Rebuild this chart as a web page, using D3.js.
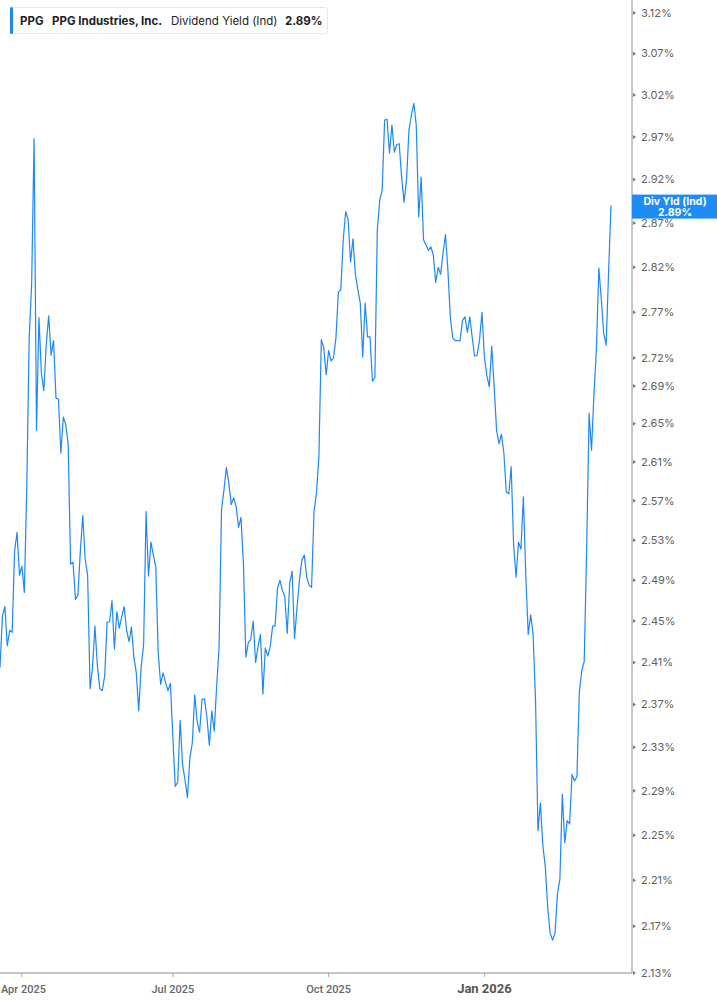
<!DOCTYPE html>
<html>
<head>
<meta charset="utf-8">
<script src="https://cdn.jsdelivr.net/npm/d3@7"></script>
<style>
  html, body { margin: 0; padding: 0; background: #fff; }
  svg { display: block; }
</style>
</head>
<body>
<div id="chart"></div>
<script>
// ---- Data ----
const ticker = "PPG";
const companyName = "PPG Industries, Inc.";
const seriesName = "Dividend Yield (Ind)";
const endLabel = "Div Yld (Ind)";

// Daily dividend yield (%), one value per trading day, Mar 2025 .. Mar 2026
const yieldValues = [
  2.405, 2.455, 2.464, 2.426, 2.441, 2.439, 2.519, 2.538, 2.495, 2.504,
  2.478, 2.584, 2.743, 2.801, 2.968, 2.643, 2.764, 2.704, 2.685, 2.735,
  2.766, 2.723, 2.739, 2.677, 2.676, 2.619, 2.657, 2.649, 2.629, 2.506,
  2.508, 2.471, 2.475, 2.519, 2.555, 2.511, 2.495, 2.385, 2.405, 2.445,
  2.407, 2.385, 2.383, 2.397, 2.449, 2.449, 2.470, 2.423, 2.459, 2.443,
  2.454, 2.464, 2.441, 2.430, 2.444, 2.415, 2.400, 2.364, 2.406, 2.427,
  2.559, 2.494, 2.528, 2.515, 2.503, 2.419, 2.389, 2.400, 2.391, 2.383,
  2.390, 2.340, 2.294, 2.298, 2.355, 2.314, 2.300, 2.284, 2.320, 2.334,
  2.379, 2.354, 2.344, 2.375, 2.375, 2.358, 2.332, 2.364, 2.345, 2.387,
  2.425, 2.561, 2.581, 2.604, 2.588, 2.566, 2.573, 2.564, 2.543, 2.553,
  2.507, 2.415, 2.429, 2.432, 2.450, 2.410, 2.425, 2.437, 2.380, 2.424,
  2.416, 2.425, 2.445, 2.445, 2.482, 2.490, 2.480, 2.474, 2.438, 2.487,
  2.499, 2.433, 2.463, 2.490, 2.510, 2.515, 2.493, 2.485, 2.483, 2.559,
  2.578, 2.615, 2.740, 2.731, 2.702, 2.728, 2.717, 2.720, 2.742, 2.792,
  2.795, 2.851, 2.883, 2.874, 2.826, 2.852, 2.812, 2.795, 2.780, 2.721,
  2.780, 2.743, 2.743, 2.695, 2.699, 2.862, 2.896, 2.908, 2.990, 2.991,
  2.951, 2.984, 2.952, 2.961, 2.962, 2.922, 2.894, 2.920, 2.978, 2.996,
  3.010, 2.984, 2.877, 2.923, 2.851, 2.845, 2.839, 2.843, 2.834, 2.803,
  2.820, 2.812, 2.836, 2.857, 2.817, 2.764, 2.742, 2.739, 2.739, 2.739,
  2.761, 2.765, 2.748, 2.765, 2.742, 2.722, 2.723, 2.740, 2.770, 2.721,
  2.701, 2.689, 2.733, 2.689, 2.643, 2.629, 2.639, 2.619, 2.579, 2.577,
  2.605, 2.525, 2.493, 2.528, 2.521, 2.574, 2.495, 2.437, 2.456, 2.437,
  2.374, 2.254, 2.279, 2.241, 2.222, 2.186, 2.164, 2.158, 2.164, 2.198,
  2.211, 2.287, 2.243, 2.263, 2.260, 2.305, 2.299, 2.303, 2.382, 2.402,
  2.411, 2.521, 2.661, 2.622, 2.681, 2.729, 2.819, 2.785, 2.747, 2.734,
  2.814, 2.890
];

// Y tick values (%)
const yTicks = [3.12, 3.07, 3.02, 2.97, 2.92, 2.87, 2.82, 2.77, 2.72, 2.69,
                2.65, 2.61, 2.57, 2.53, 2.49, 2.45, 2.41, 2.37, 2.33, 2.29,
                2.25, 2.21, 2.17, 2.13];

// X ticks: trading-day index of first session of each labelled month
const xTickIndex = [9, 71, 135, 199];
const xTickLabels = ["Apr 2025", "Jul 2025", "Oct 2025", "Jan 2026"];
const xTickBold = [false, false, false, true];

// ---- Layout ----
const W = 717, H = 1005;
const plotRight = 632, plotBottom = 973, plotTop = 13;
const lineColor = "#1e88f5";

const svg = d3.select("#chart").append("svg")
  .attr("width", W).attr("height", H)
  .style("font-family", "Inter, 'Noto Sans', sans-serif");

const x = d3.scaleLinear().domain([0, yieldValues.length - 1]).range([0, 611]);
const y = d3.scaleLog().domain([2.13, 3.12]).range([plotBottom, plotTop]);

// Line
const line = d3.line()
  .x((d, i) => x(i))
  .y(d => y(d));

svg.append("path")
  .datum(yieldValues)
  .attr("fill", "none")
  .attr("stroke", lineColor)
  .attr("stroke-width", 1.2)
  .attr("stroke-linejoin", "round")
  .attr("d", line);

// Y axis (right)
const yAxisG = svg.append("g").attr("transform", `translate(${plotRight},0)`);
yAxisG.append("line")
  .attr("x1", 0).attr("x2", 0).attr("y1", 0).attr("y2", plotBottom)
  .attr("stroke", "#b3b3b3").attr("stroke-width", 1.5);
const yt = yAxisG.selectAll("g.yt").data(yTicks).enter().append("g")
  .attr("transform", d => `translate(0,${y(d)})`);
yt.append("path")
  .attr("d", "M1,-2L4,0L1,2Z")
  .attr("fill", "#777");
yt.append("text")
  .attr("x", 9).attr("dy", "0.35em")
  .attr("font-size", 11)
  .attr("fill", "#5f5f5f")
  .text(d => d.toFixed(2) + "%");

// X axis (bottom)
const xAxisG = svg.append("g");
xAxisG.append("line")
  .attr("x1", 0).attr("x2", plotRight).attr("y1", plotBottom).attr("y2", plotBottom)
  .attr("stroke", "#b3b3b3").attr("stroke-width", 1.5);
const xt = xAxisG.selectAll("g.xt").data(xTickIndex).enter().append("g")
  .attr("transform", d => `translate(${x(d)},${plotBottom})`);
xt.append("line")
  .attr("y1", 0).attr("y2", 4)
  .attr("stroke", "#aaa");
xt.append("text")
  .attr("y", 20)
  .attr("x", (d, i) => i === 0 ? 1.5 : 0)
  .attr("text-anchor", "middle")
  .attr("font-family", "Roboto, 'Liberation Sans Narrow', sans-serif")
  .attr("font-size", (d, i) => xTickBold[i] ? 13 : 11)
  .attr("font-weight", (d, i) => xTickBold[i] ? 700 : 500)
  .attr("fill", (d, i) => xTickBold[i] ? "#555" : "#666")
  .text((d, i) => xTickLabels[i]);

// End label
const lastVal = yieldValues[yieldValues.length - 1];
const endY = y(lastVal);
const endG = svg.append("g");
endG.append("rect")
  .attr("x", plotRight).attr("y", endY - 11)
  .attr("width", W - plotRight).attr("height", 24)
  .attr("fill", "#1e8cf5");
endG.append("text")
  .attr("x", 675).attr("y", endY - 1)
  .attr("text-anchor", "middle").attr("fill", "#fff")
  .attr("font-size", 10.5).attr("font-weight", 700)
  .text(endLabel);
endG.append("text")
  .attr("x", 675).attr("y", endY + 10)
  .attr("text-anchor", "middle").attr("fill", "#fff")
  .attr("font-size", 10.5).attr("font-weight", 700)
  .text(lastVal.toFixed(2) + "%");

// Legend box
const lg = svg.append("g");
lg.append("rect")
  .attr("x", 10.5).attr("y", 7.5).attr("width", 317).attr("height", 26)
  .attr("rx", 3).attr("fill", "#fff").attr("stroke", "#e6e6e6");
lg.append("rect")
  .attr("x", 10).attr("y", 7).attr("width", 3).attr("height", 27)
  .attr("rx", 1.5).attr("fill", lineColor);
const lt = lg.append("text").attr("y", 25).attr("font-size", 11.5).attr("fill", "#222");
lt.append("tspan").attr("x", 20).attr("font-weight", 700).text(ticker);
lt.append("tspan").attr("x", 52).attr("font-weight", 700).text(companyName);
lt.append("tspan").attr("x", 171).attr("font-weight", 400).text(seriesName);
lt.append("tspan").attr("x", 285).attr("font-weight", 700).text(lastVal.toFixed(2) + "%");
</script>
</body>
</html>
